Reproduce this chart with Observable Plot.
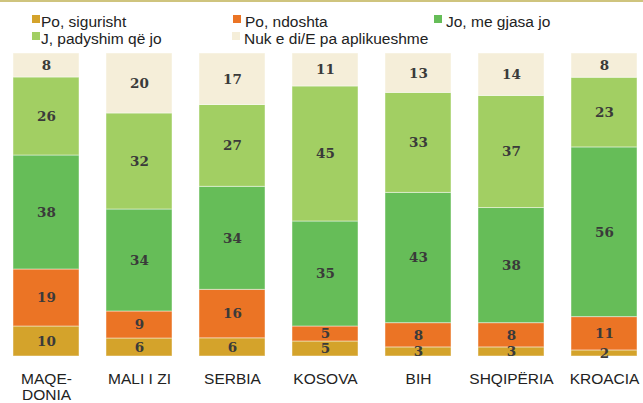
<!DOCTYPE html>
<html>
<head>
<meta charset="utf-8">
<script src="https://cdn.jsdelivr.net/npm/d3@7"></script>
<script src="https://cdn.jsdelivr.net/npm/@observablehq/plot@0.6"></script>
<style>
  html, body { margin: 0; padding: 0; background: #fff; }
  #wrap { position: relative; width: 643px; height: 403px; overflow: hidden; }
  #topline { position: absolute; left: 0; top: 0; width: 643px; height: 2px; background: #cfc47e; }
  #legend { position: relative; width: 643px; height: 50px; font-family: "Liberation Sans", Arial, sans-serif; font-size: 15.5px; color: #222; }
  #chart { height: 353px; }
  #chart svg { display: block; }
  .item { position: absolute; white-space: nowrap; line-height: 15px; }
  .sw { position: absolute; width: 8px; height: 8px; }
  .lab { position: absolute; }
</style>
</head>
<body>
<div id="wrap">
  <div id="topline"></div>
  <div id="legend"></div>
  <div id="chart"></div>
</div>
<script>
const categories = ["MAQEDONIA", "MALI I ZI", "SERBIA", "KOSOVA", "BIH", "SHQIPËRIA", "KROACIA"];
const categoryLabels = ["MAQE-\nDONIA", "MALI I ZI", "SERBIA", "KOSOVA", "BIH", "SHQIPËRIA", "KROACIA"];
const seriesNames = ["Po, sigurisht", "Po, ndoshta", "Jo, me gjasa jo", "J, padyshim që jo", "Nuk e di/E pa aplikueshme"];
const seriesColors = ["#d4a32b", "#eb7425", "#66bd58", "#a2cf63", "#f5eed9"];
const poSigurisht = [10, 6, 6, 5, 3, 3, 2];
const poNdoshta = [19, 9, 16, 5, 8, 8, 11];
const joMeGjasa = [38, 34, 34, 35, 43, 38, 56];
const jPadyshim = [26, 32, 27, 45, 33, 37, 23];
const nukEDi = [8, 20, 17, 11, 13, 14, 8];
const seriesValues = [poSigurisht, poNdoshta, joMeGjasa, jPadyshim, nukEDi];

const data = [];
categories.forEach((c, i) => {
  seriesNames.forEach((s, j) => {
    data.push({category: c, series: s, value: seriesValues[j][i]});
  });
});

// Legend
const legendPos = [
  {left: 32, top: 13.5}, {left: 233, top: 13.5}, {left: 434, top: 13.5},
  {left: 32, top: 31}, {left: 232, top: 31}
];
const legend = document.getElementById("legend");
seriesNames.forEach((s, j) => {
  const it = document.createElement("div");
  it.className = "item";
  it.style.left = legendPos[j].left + "px";
  it.style.top = legendPos[j].top + "px";
  const sw = document.createElement("div");
  sw.className = "sw";
  sw.style.background = seriesColors[j];
  sw.style.left = "0px";
  sw.style.top = "1px";
  const lb = document.createElement("div");
  lb.className = "lab";
  lb.style.left = (j === 0 || j === 3) ? "9px" : "12px";
  lb.style.top = "0px";
  lb.textContent = s;
  it.appendChild(sw);
  it.appendChild(lb);
  legend.appendChild(it);
});

const labelOf = new Map(categories.map((c, i) => [c, categoryLabels[i]]));

const chart = Plot.plot({
  width: 643,
  height: 353,
  marginTop: 3,
  marginBottom: 47,
  marginLeft: 10,
  marginRight: 2,
  x: {domain: categories, paddingInner: 0.287, paddingOuter: 0, axis: null},
  y: {axis: null, domain: [0, 1]},
  color: {domain: seriesNames, range: seriesColors},
  style: {fontFamily: "Liberation Sans, Arial, sans-serif", background: "transparent", overflow: "visible"},
  marks: [
    Plot.barY(data, Plot.stackY({
      x: "category", y: "value", z: "series", fill: "series", offset: "normalize",
      stroke: "#ffffff", strokeOpacity: 0.45, strokeWidth: 1
    })),
    Plot.text(data, Plot.stackY({
      x: "category", y: "value", z: "series", offset: "normalize",
      text: d => String(d.value),
      fill: "#3a3a3a", fontWeight: "bold", fontSize: 13.5,
      fontFamily: "DejaVu Serif, Georgia, serif"
    })),
    Plot.text(categories, {
      x: d => d, text: d => labelOf.get(d),
      frameAnchor: "bottom", lineAnchor: "top", dy: 16,
      fontSize: 15.5, lineHeight: 1.04, fill: "#222"
    })
  ]
});
document.getElementById("chart").appendChild(chart);
</script>
</body>
</html>
